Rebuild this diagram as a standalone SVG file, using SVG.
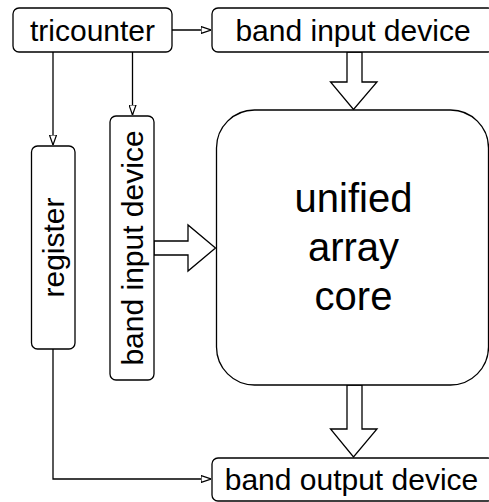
<svg xmlns="http://www.w3.org/2000/svg" width="489" height="502" viewBox="0 0 489 502">
<defs>
<style>
.box{fill:#fff;stroke:#000;stroke-width:1.3}
.t{font-family:"Liberation Sans",Arial,sans-serif;font-size:30px;fill:#000;text-anchor:middle}
.big{font-size:40px}
.ln{fill:none;stroke:#000;stroke-width:1.3}
.blk{fill:#fff;stroke:#000;stroke-width:1.3;stroke-linejoin:miter}
</style>
<marker id="ah" viewBox="0 0 10 8" refX="10" refY="4" markerWidth="10" markerHeight="8" markerUnits="userSpaceOnUse" orient="auto">
<path d="M0,0.5 L10,4 L0,7.5 Z" fill="#fff" stroke="#000" stroke-width="1.2"/>
</marker>
</defs>
<rect width="489" height="502" fill="#fff"/>
<g id="connectors">
<path class="ln" d="M172,30 H211" marker-end="url(#ah)"/>
<path class="ln" d="M53,52 V145" marker-end="url(#ah)"/>
<path class="ln" d="M132.5,52 V115" marker-end="url(#ah)"/>
<path class="ln" d="M53,349 V479 H211" marker-end="url(#ah)"/>
<path class="blk" d="M347,52 H362 V82 H377 L353.5,109.5 L330.5,82 H347 Z"/>
<path class="blk" d="M347,385 H362 V429 H377 L353.5,457 L330.5,429 H347 Z"/>
<path class="blk" d="M154,241 H188 V225 L215.5,248 L188,271 V255 H154 Z"/>
</g>
<g id="tricounter">
<rect class="box" x="13" y="8" width="159" height="44" rx="6"/>
<text class="t" x="92.5" y="41">tricounter</text>
</g>
<g id="band-input-top">
<rect class="box" x="212" y="8" width="282" height="44" rx="6"/>
<text class="t" x="353" y="41">band input device</text>
</g>
<g id="register">
<rect class="box" x="31.5" y="146" width="43.5" height="203" rx="6"/>
<text class="t" transform="translate(64,247.5) rotate(-90)">register</text>
</g>
<g id="band-input-side">
<rect class="box" x="110" y="116" width="44" height="264" rx="6"/>
<text class="t" transform="translate(143,248) rotate(-90)">band input device</text>
</g>
<g id="core">
<rect class="box" x="216.5" y="110" width="272" height="275" rx="38"/>
<text class="t big" x="353.5" y="212">unified</text>
<text class="t big" x="353.5" y="261">array</text>
<text class="t big" x="353.5" y="310">core</text>
</g>
<g id="band-output">
<rect class="box" x="212" y="458" width="282" height="43" rx="6"/>
<text class="t" x="351.5" y="490">band output device</text>
</g>
</svg>
